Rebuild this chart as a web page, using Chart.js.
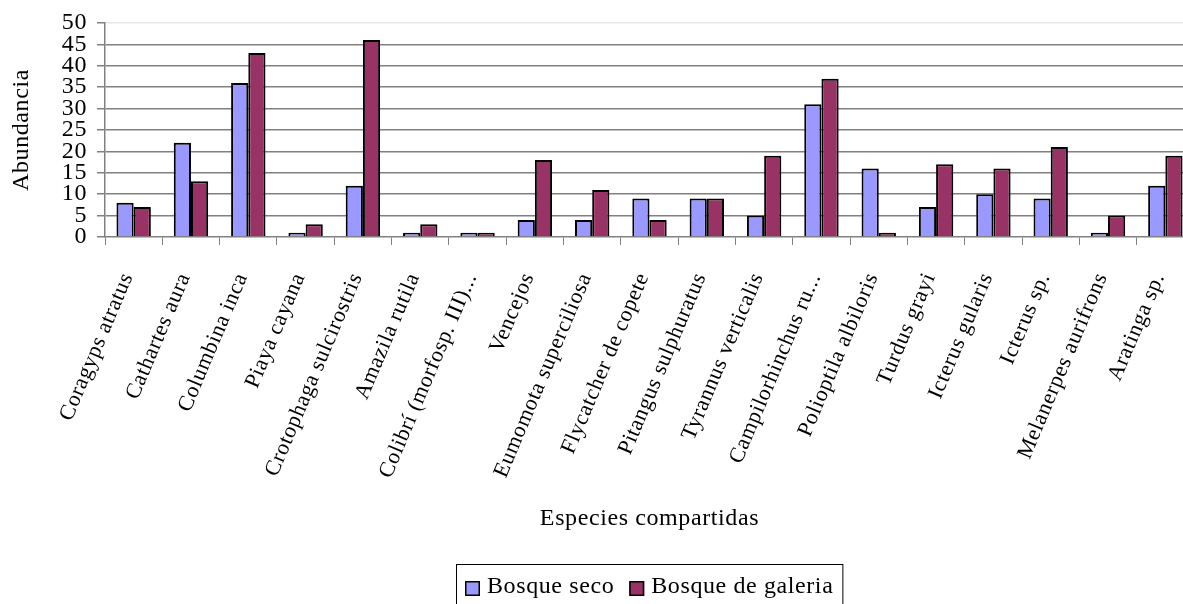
<!DOCTYPE html>
<html>
<head>
<meta charset="utf-8">
<script src="https://cdn.jsdelivr.net/npm/chart.js@4/dist/chart.umd.min.js"></script>
<style>
  html, body { margin: 0; padding: 0; background: #fff; overflow: hidden; }
  #wrap { width: 1183px; height: 604px; overflow: hidden; }
  canvas { display: block; }
</style>
</head>
<body>
<div id="wrap"><canvas id="chart" width="1200" height="604"></canvas></div>
<script>
// Species shared between both forest types
const categories = [
  'Coragyps atratus', 'Cathartes aura', 'Columbina inca', 'Piaya cayana',
  'Crotophaga sulcirostris', 'Amazila rutila', 'Colibrí (morfosp. III)...',
  'Vencejos', 'Eumomota superciliosa', 'Flycatcher de copete',
  'Pitangus sulphuratus', 'Tyrannus verticalis', 'Campilorhinchus ru...',
  'Polioptila albiloris', 'Turdus grayi', 'Icterus gularis', 'Icterus sp.',
  'Melanerpes aurifrons', 'Aratinga sp.'
];
// Abundance per species
const bosqueSeco =     [8, 22, 36, 1, 12, 1, 1, 4, 4, 9, 9, 5, 31, 16, 7, 10, 9, 1, 12];
const bosqueGaleria =  [7, 13, 43, 3, 46, 3, 1, 18, 11, 4, 9, 19, 37, 1, 17, 16, 21, 5, 19];
const seriesNames = ['Bosque seco', 'Bosque de galeria'];
const yTicks = [0, 5, 10, 15, 20, 25, 30, 35, 40, 45, 50];

const FONT = 'Liberation Serif';
const FONT_SIZE = 24;
const SPACING = '0.6px';
const colors = ['#9999FF', '#993366'];

// Slightly loose letter spacing for all chart text
const textSpacing = {
  id: 'textSpacing',
  beforeUpdate(chart) { chart.ctx.letterSpacing = SPACING; },
  beforeDraw(chart) { chart.ctx.letterSpacing = SPACING; }
};

// Boxed legend drawn under the x-axis title
const boxedLegend = {
  id: 'boxedLegend',
  afterDraw(chart) {
    const ctx = chart.ctx;
    const area = chart.chartArea;
    ctx.save();
    ctx.letterSpacing = SPACING;
    ctx.font = FONT_SIZE + 'px "' + FONT + '"';
    const marker = 15, gapText = 7, gapItem = 15, pad = 9;
    const items = chart.data.datasets.map(ds => ({
      label: ds.label, color: ds.backgroundColor, w: ctx.measureText(ds.label).width
    }));
    let total = pad * 2;
    items.forEach((it, i) => { total += marker + gapText + it.w + (i < items.length - 1 ? gapItem : 0); });
    const cx = (area.left + area.right) / 2;
    let x = Math.round(cx - total / 2);
    const top = 564;
    ctx.strokeStyle = '#000';
    ctx.lineWidth = 1;
    ctx.strokeRect(x + 0.5, top + 0.5, total, 60);
    x += pad;
    items.forEach(it => {
      ctx.fillStyle = it.color;
      ctx.fillRect(x, 581, marker, marker);
      ctx.lineWidth = 1.5;
      ctx.strokeStyle = '#000';
      ctx.strokeRect(x + 0.75, 581.75, marker - 1.5, marker - 1.5);
      x += marker + gapText;
      ctx.fillStyle = '#000';
      ctx.textBaseline = 'alphabetic';
      ctx.textAlign = 'left';
      ctx.fillText(it.label, x, 593);
      x += it.w + gapItem;
    });
    ctx.restore();
  }
};

new Chart(document.getElementById('chart'), {
  type: 'bar',
  data: {
    labels: categories,
    datasets: [
      { label: seriesNames[0], data: bosqueSeco, backgroundColor: colors[0], borderColor: '#000', borderWidth: 2 },
      { label: seriesNames[1], data: bosqueGaleria, backgroundColor: colors[1], borderColor: '#000', borderWidth: 2 }
    ]
  },
  options: {
    responsive: false,
    animation: false,
    events: [],
    categoryPercentage: 0.6,
    barPercentage: 1.0,
    layout: { padding: { top: 23, right: 6, bottom: 67, left: 0 } },
    plugins: {
      legend: { display: false },
      tooltip: { enabled: false }
    },
    scales: {
      x: {
        afterFit(s) { s.height = 300; s.paddingRight = 0; },
        grid: {
          offset: true,
          drawOnChartArea: false,
          drawTicks: true,
          tickLength: 8,
          tickColor: '#808080'
        },
        border: { color: '#808080', width: 1.5 },
        ticks: {
          autoSkip: false,
          minRotation: 67,
          maxRotation: 67,
          padding: 24,
          labelOffset: -6,
          color: '#000',
          font: { family: FONT, size: 22 }
        },
        title: {
          display: true,
          text: 'Especies compartidas',
          color: '#000',
          padding: { top: 4, bottom: 4 },
          font: { family: FONT, size: FONT_SIZE }
        }
      },
      y: {
        min: 0,
        max: 50,
        afterFit(s) { s.width = 105; },
        afterBuildTicks(s) { s.ticks = yTicks.map(v => ({ value: v })); },
        grid: {
          color: ctx => (ctx.tick && ctx.tick.value === 50 ? '#e6e6e6' : (ctx.tick && ctx.tick.value === 0 ? 'rgba(0,0,0,0)' : '#808080')),
          lineWidth: 1.5,
          tickLength: 8,
          tickColor: '#808080'
        },
        border: { color: '#808080', width: 1.5 },
        ticks: {
          autoSkip: false,
          stepSize: 5,
          padding: 10,
          color: '#000',
          font: { family: FONT, size: FONT_SIZE, lineHeight: 1 }
        },
        title: {
          display: true,
          text: 'Abundancia',
          color: '#000',
          padding: { top: 7, bottom: 0 },
          font: { family: FONT, size: FONT_SIZE }
        }
      }
    }
  },
  plugins: [textSpacing, boxedLegend]
});
</script>
</body>
</html>
